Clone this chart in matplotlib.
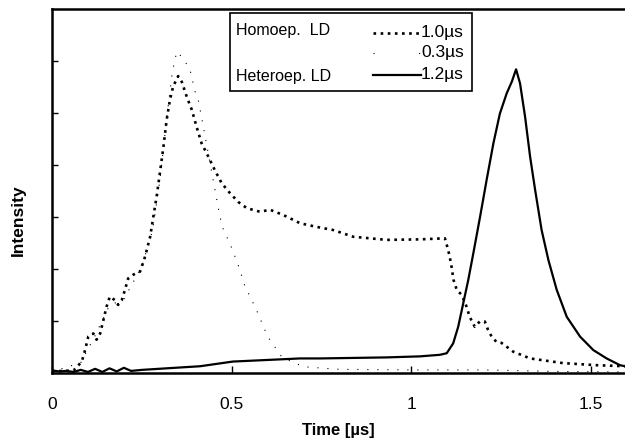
import numpy as np
import matplotlib.pyplot as plt
from matplotlib.lines import Line2D
from matplotlib.patches import Rectangle

plt.rcParams['font.family'] = ['Liberation Sans', 'DejaVu Sans']

# Homoep. LD, 1.0us pulse (dense dots)
homo1_t = [0.0, 0.06, 0.083, 0.092, 0.101, 0.115, 0.124, 0.134, 0.143, 0.152, 0.161,
           0.175, 0.184, 0.194, 0.203, 0.212, 0.226, 0.245, 0.259, 0.273, 0.282,
           0.291, 0.300, 0.310, 0.319, 0.328, 0.337, 0.351, 0.361, 0.375, 0.389,
           0.402, 0.416, 0.435, 0.453, 0.472, 0.495, 0.518, 0.542, 0.579, 0.606,
           0.643, 0.690, 0.736, 0.782, 0.838, 0.931, 1.024, 1.093, 1.102, 1.110,
           1.117, 1.126, 1.140, 1.153, 1.162, 1.176, 1.190, 1.204, 1.213, 1.223,
           1.236, 1.250, 1.264, 1.283, 1.330, 1.422, 1.515, 1.594]
homo1_i = [0.03, 0.05, 0.22, 0.44, 0.70, 0.76, 0.64, 0.76, 1.02, 1.28, 1.47,
           1.40, 1.31, 1.40, 1.60, 1.82, 1.89, 1.95, 2.24, 2.62, 3.01,
           3.39, 3.84, 4.35, 4.87, 5.25, 5.51, 5.71, 5.60, 5.31, 5.06,
           4.74, 4.42, 4.16, 3.90, 3.65, 3.46, 3.29, 3.17, 3.10, 3.14,
           3.04, 2.88, 2.81, 2.75, 2.62, 2.56, 2.57, 2.59, 2.37, 2.11,
           1.79, 1.60, 1.50, 1.28, 1.08, 0.89, 0.99, 0.99, 0.83, 0.70,
           0.60, 0.58, 0.51, 0.41, 0.28, 0.19, 0.15, 0.13]

# Homoep. LD, 0.3us pulse (sparse dots)
homo03_t = [0.0, 0.08, 0.12, 0.16, 0.20, 0.25, 0.28, 0.30, 0.32, 0.335, 0.347,
            0.365, 0.384, 0.398, 0.407, 0.43, 0.467, 0.477, 0.495, 0.509, 0.523,
            0.537, 0.551, 0.569, 0.60, 0.64, 0.70, 0.80, 1.0, 1.2, 1.4, 1.594]
homo03_i = [0.02, 0.20, 0.72, 1.30, 1.42, 2.05, 2.75, 3.70, 4.95, 5.80, 6.18,
            6.05, 5.83, 5.41, 5.25, 4.40, 3.01, 2.75, 2.49, 2.24, 1.98,
            1.66, 1.47, 1.21, 0.70, 0.30, 0.12, 0.07, 0.06, 0.06, 0.03, 0.02]

# Heteroep. LD, 1.2us pulse (solid)
hetero_t = [0.0, 0.02, 0.04, 0.06, 0.08, 0.10, 0.12, 0.14, 0.16, 0.18, 0.20,
            0.22, 0.25, 0.319, 0.412, 0.503, 0.597, 0.690, 0.745, 0.931, 1.024,
            1.079, 1.098, 1.116, 1.130, 1.144, 1.158, 1.172, 1.191, 1.209, 1.228,
            1.246, 1.265, 1.279, 1.291, 1.302, 1.316, 1.330, 1.344, 1.362, 1.381,
            1.404, 1.432, 1.469, 1.506, 1.543, 1.580, 1.594]
hetero_i = [0.05, 0.03, 0.04, 0.02, 0.06, 0.02, 0.08, 0.02, 0.09, 0.03, 0.10,
            0.04, 0.06, 0.09, 0.13, 0.22, 0.25, 0.28, 0.28, 0.30, 0.32,
            0.35, 0.38, 0.57, 0.89, 1.34, 1.79, 2.30, 3.01, 3.71, 4.42,
            4.99, 5.38, 5.60, 5.84, 5.57, 4.93, 4.16, 3.52, 2.75, 2.17,
            1.60, 1.08, 0.70, 0.44, 0.28, 0.15, 0.13]

W, H = 625, 447


def pf(x, y):
    # pixel position -> figure fraction
    return x / W, 1 - y / H


fig = plt.figure(figsize=(W / 100, H / 100), dpi=100)
ax = fig.add_axes([52 / W, 1 - 373 / H, 1 - 52 / W, (373 - 9) / H])

ax.plot(homo1_t, homo1_i, color='black', lw=1.9, linestyle=(0, (1, 1.7)))
ax.plot(homo03_t, homo03_i, color='black', lw=0.8, linestyle=(0, (1, 8)))
ax.plot(hetero_t, hetero_i, color='black', lw=1.6)

ax.set_xlim(0, 1.594)
ax.set_ylim(0, 7)
ax.set_xticks([0, 0.5, 1, 1.5])
ax.set_xticklabels(['0', '0.5', '1', '1.5'])
ax.set_yticks([1, 2, 3, 4, 5, 6])
ax.set_yticklabels([])
ax.tick_params(axis='x', direction='in', length=5, width=1, pad=17, labelsize=12.5)
ax.tick_params(axis='y', direction='in', length=4, width=1)
ax.spines['right'].set_visible(False)
for s in ['left', 'bottom', 'top']:
    ax.spines[s].set_linewidth(1.8)

ax.set_xlabel('Time [µs]', fontsize=12, fontweight='bold', labelpad=8)
x, y = pf(18, 220)
fig.text(x, y, 'Intensity', rotation=90, fontsize=12.5, fontweight='bold',
         ha='center', va='center')

# legend box drawn by hand (group labels on the left)
x0, y0 = pf(230, 91)
x1, y1 = pf(472, 13)
fig.patches.append(Rectangle((x0, y0), x1 - x0, y1 - y0, transform=fig.transFigure,
                             fill=True, facecolor='white', edgecolor='black', lw=1.2))
for label, py in [('Homoep.  LD', 30), ('Heteroep. LD', 76)]:
    x, y = pf(236, py)
    fig.text(x, y, label, fontsize=11.5, ha='left', va='center')
rows = [('1.0µs', 33, dict(lw=1.9, linestyle=(0, (1, 1.7)))),
        ('0.3µs', 53, dict(lw=0.8, linestyle=(0, (1, 40)))),
        ('1.2µs', 75, dict(lw=1.6, linestyle='-'))]
for label, py, style in rows:
    xa, ya = pf(373, py)
    xb, _ = pf(421, py)
    fig.lines.append(Line2D([xa, xb], [ya, ya], transform=fig.transFigure,
                            color='black', **style))
    x, y = pf(421, py)
    fig.text(x, y, label, fontsize=12.5, ha='left', va='center')

fig.savefig('out.png', dpi=100)
